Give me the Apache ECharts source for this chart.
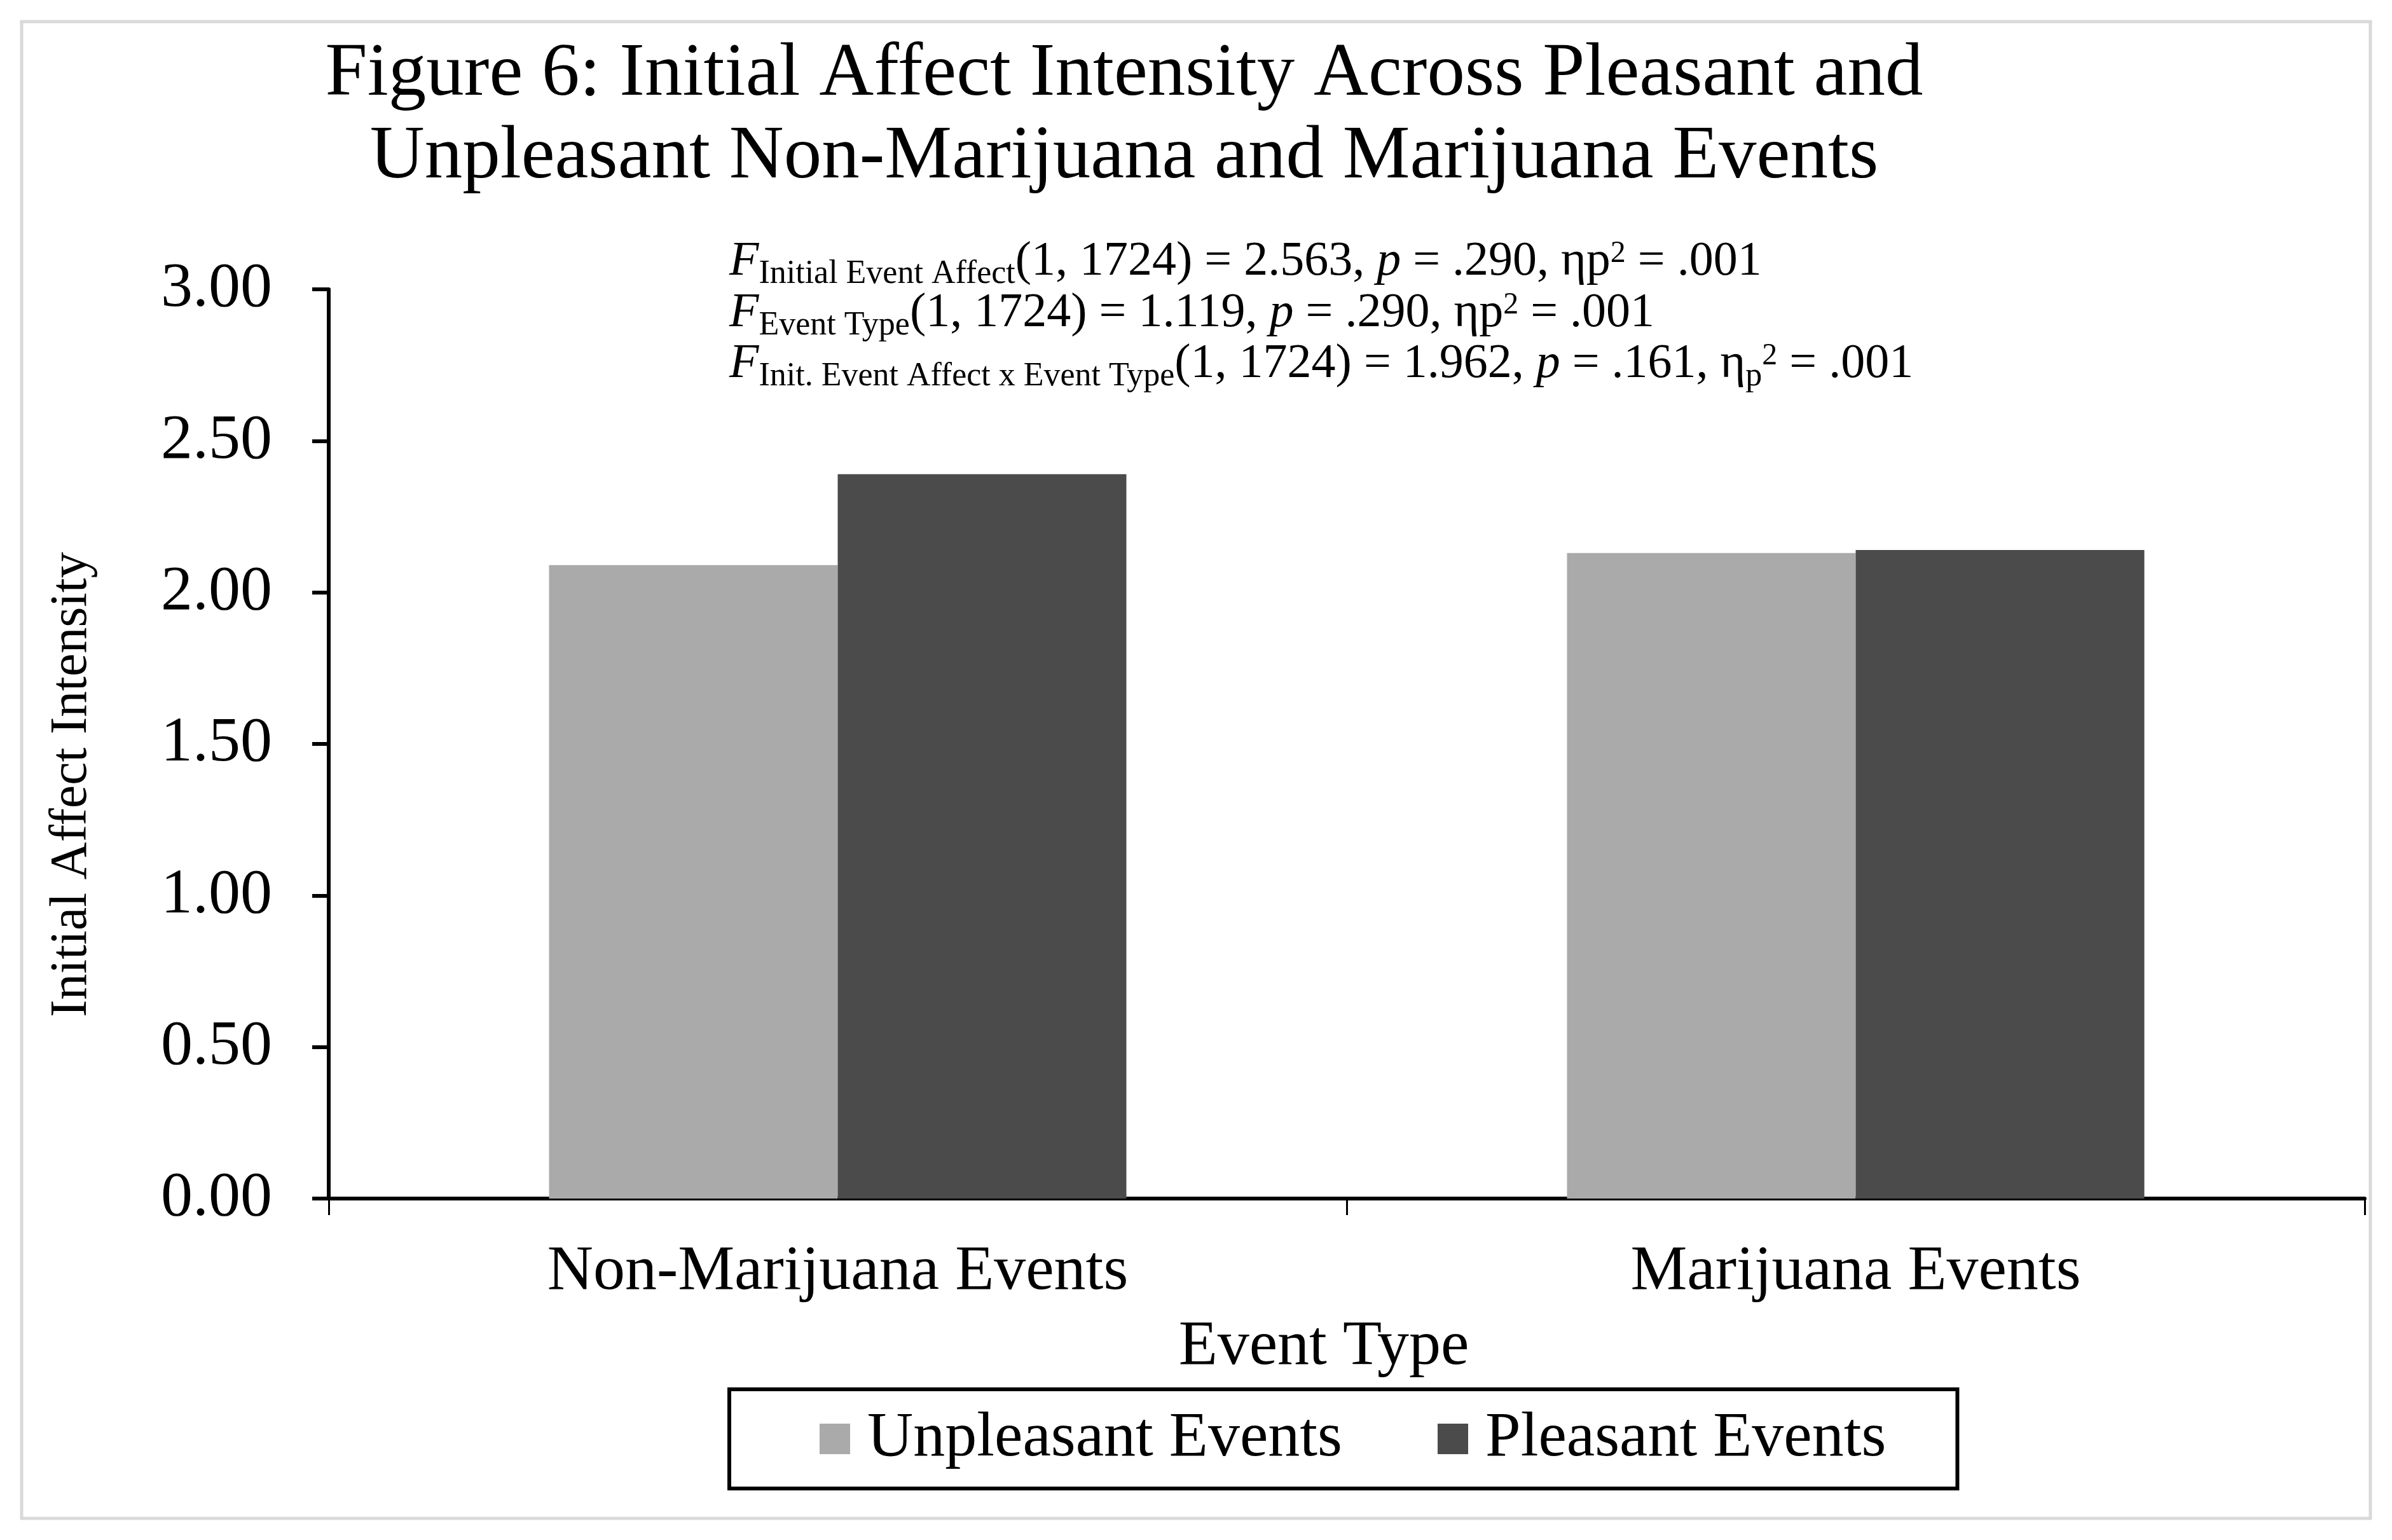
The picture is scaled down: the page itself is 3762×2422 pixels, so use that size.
<!DOCTYPE html>
<html>
<head>
<meta charset="utf-8">
<script src="https://cdn.jsdelivr.net/npm/echarts@6/dist/echarts.min.js"></script>
<style>
html,body{margin:0;padding:0;background:#fff;}
#chart{width:3762px;height:2422px;}
</style>
</head>
<body>
<div id="chart"></div>
<script>
const categories = ['Non-Marijuana Events', 'Marijuana Events'];
const seriesNames = ['Unpleasant Events', 'Pleasant Events'];
const unpleasant = [2.09, 2.13];
const pleasant = [2.39, 2.14];
const yTicks = { min: 0, max: 3, interval: 0.5 };
const titleLines = ['Figure 6: Initial Affect Intensity Across Pleasant and', 'Unpleasant Non-Marijuana and Marijuana Events'];
const statLines = [
  '{i|F}{sub|Initial Event Affect}{m|(1, 1724) = 2.563, }{i|p}{m| = .290, ηp}{sup|2}{m| = .001}',
  '{i|F}{sub|Event Type}{m|(1, 1724) = 1.119, }{i|p}{m| = .290, ηp}{sup|2}{m| = .001}',
  '{i|F}{sub|Init. Event Affect x Event Type}{m|(1, 1724) = 1.962, }{i|p}{m| = .161, η}{sub|p}{sup|2}{m| = .001}'
];

const FONT = "'Liberation Serif', 'Times New Roman', serif";
const chart = echarts.init(document.getElementById('chart'));

const rich = {
  m: { fontSize: 76, fontFamily: FONT, fill: '#000' },
  i: { fontSize: 76, fontFamily: FONT, fontStyle: 'italic', fill: '#000' },
  sub: { fontSize: 52, fontFamily: FONT, fill: '#000', padding: [38, 0, 0, 0] },
  sup: { fontSize: 48, fontFamily: FONT, fill: '#000', padding: [0, 0, 26, 0] }
};
const statY = [412, 493, 573];

chart.setOption({
  backgroundColor: '#fff',
  animation: false,
  title: {
    text: titleLines.join('\n'),
    left: 1768,
    top: 53,
    textAlign: 'center',
    padding: 0,
    textStyle: { fontFamily: FONT, fontSize: 119, fontWeight: 'normal', color: '#000', lineHeight: 130 }
  },
  graphic: [
    { type: 'rect', z: -10, shape: { x: 34, y: 34, width: 3694, height: 2354 },
      style: { fill: 'none', stroke: '#D9D9D9', lineWidth: 5 } }
  ].concat(statLines.map((t, k) => ({
    type: 'text', x: 1147, y: statY[k],
    style: { text: t, rich: rich, align: 'left', verticalAlign: 'middle', fontSize: 76, fontFamily: FONT, fill: '#000' }
  }))),
  legend: {
    data: seriesNames,
    left: 1147,
    top: 2185,
    orient: 'horizontal',
    padding: [28, 112, 28, 142],
    itemWidth: 48,
    itemHeight: 48,
    itemGap: 150,
    icon: 'rect',
    borderColor: '#000',
    borderWidth: 6,
    textStyle: { fontFamily: FONT, fontSize: 100, color: '#000', padding: [0, 0, 0, 22] }
  },
  grid: { left: 517, right: 43, top: 455, bottom: 537, containLabel: false, outerBoundsMode: 'none' },
  xAxis: {
    type: 'category',
    data: categories,
    name: 'Event Type',
    nameLocation: 'middle',
    nameGap: 184,
    nameTextStyle: { fontFamily: FONT, fontSize: 100, color: '#000', padding: [0, 72, 0, 0] },
    axisLine: { show: true, lineStyle: { color: '#000', width: 6 } },
    axisTick: { show: true, alignWithLabel: false, length: 26, lineStyle: { color: '#000', width: 3 } },
    axisLabel: { margin: 66, fontFamily: FONT, fontSize: 100, color: '#000' },
    splitLine: { show: false }
  },
  yAxis: {
    type: 'value',
    min: yTicks.min, max: yTicks.max, interval: yTicks.interval,
    name: 'Initial Affect Intensity',
    nameLocation: 'middle',
    nameGap: 363,
    nameTextStyle: { fontFamily: FONT, fontSize: 82, color: '#000', padding: [0, 128, 0, 0] },
    axisLine: { show: true, lineStyle: { color: '#000', width: 6 } },
    axisTick: { show: true, length: 26, lineStyle: { color: '#000', width: 6 } },
    axisLabel: { margin: 89, fontFamily: FONT, fontSize: 100, color: '#000', formatter: v => v.toFixed(2) },
    splitLine: { show: false }
  },
  series: [
    { name: seriesNames[0], type: 'bar', data: unpleasant, barWidth: 454, barGap: '0%', itemStyle: { color: '#AAAAAA' } },
    { name: seriesNames[1], type: 'bar', data: pleasant, barWidth: 454, barGap: '0%', itemStyle: { color: '#4B4B4B' } }
  ]
});
</script>
</body>
</html>
